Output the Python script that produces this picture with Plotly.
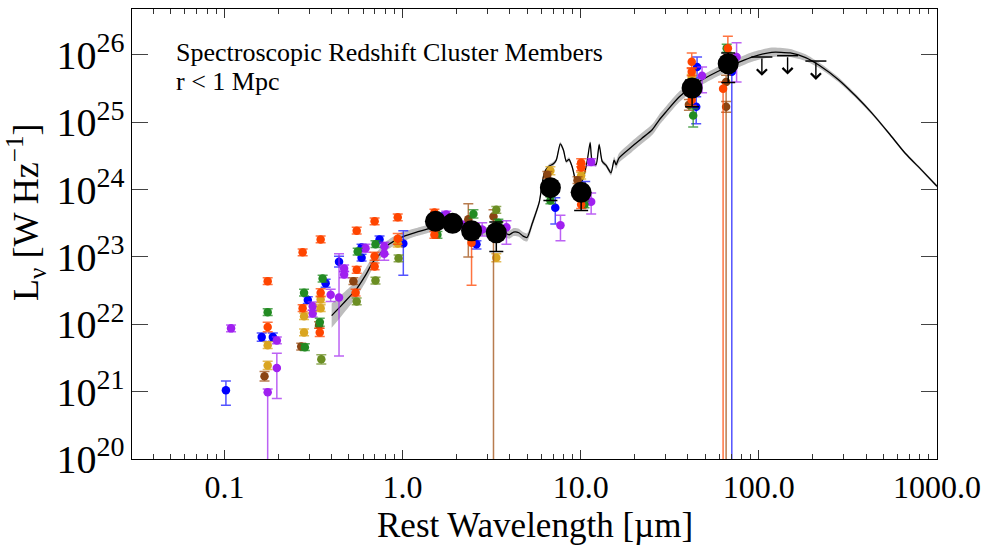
import numpy as np
import plotly.graph_objects as go

# ---------------- data (rest wavelength in micron, log10 L_nu [W/Hz]) ----------------
model_lam = [0.40, 0.45, 0.50, 0.55, 0.62, 0.68, 0.75, 0.81, 0.90, 1.0, 1.2, 1.36, 1.55, 1.76, 2.0,
             2.28, 2.55, 2.8, 3.1, 3.5, 3.75, 3.97, 4.2, 4.5, 4.75, 5.0, 5.35, 5.85, 6.25, 6.66,
             7.0, 7.3, 7.68, 8.0, 8.3, 8.6, 8.98, 9.4, 9.8, 10.4, 10.9, 11.3, 11.6, 12.2, 12.7,
             13.2, 13.9, 14.8, 15.4, 15.8, 16.4, 19.4, 22.0, 25.2, 27.5, 30.0, 35.8, 46.0, 65.0,
             77.0, 91.5, 118.0, 150.0, 183.0, 220.0, 281.0, 350.0, 430.0, 540.0, 663.0, 820.0, 1000.0]
model_logL = [22.13, 22.27, 22.40, 22.52, 22.73, 22.92, 23.05, 23.16, 23.24, 23.30, 23.37, 23.41, 23.45, 23.48, 23.47,
              23.45, 23.41, 23.38, 23.39, 23.41, 23.36, 23.33, 23.37, 23.36, 23.31, 23.29, 23.50, 23.81, 24.25, 24.35,
              24.38, 24.44, 24.68, 24.59, 24.42, 24.45, 24.33, 24.12, 24.06, 24.19, 24.44, 24.70, 24.42, 24.37, 24.67,
              24.42, 24.36, 24.25, 24.44, 24.37, 24.47, 24.64, 24.76, 24.89, 25.03, 25.15, 25.38, 25.60, 25.81,
              25.89, 25.97, 26.04, 26.03, 25.96, 25.84, 25.63, 25.39, 25.14, 24.83, 24.54, 24.29, 24.05]
model_unc = [0.18, 0.16, 0.14, 0.12, 0.10, 0.09, 0.08, 0.07, 0.07, 0.07, 0.06, 0.06, 0.06, 0.06, 0.06,
             0.06, 0.06, 0.06, 0.06, 0.06, 0.06, 0.06, 0.06, 0.06, 0.06, 0.06, 0.05, 0.04, 0.03, 0.03,
             0.03, 0.03, 0.03, 0.03, 0.03, 0.03, 0.03, 0.03, 0.03, 0.03, 0.03, 0.03, 0.03, 0.03, 0.03,
             0.03, 0.03, 0.04, 0.05, 0.06, 0.07, 0.08, 0.08, 0.08, 0.08, 0.08, 0.08, 0.07, 0.07,
             0.07, 0.07, 0.07, 0.06, 0.05, 0.04, 0.035, 0.03, 0.025, 0.02, 0.02, 0.02, 0.02]

blue_lam = [0.102, 0.162, 0.187, 0.294, 0.37, 0.44, 0.589, 0.589, 0.743, 1.01, 1.68, 2.6, 7.2, 10.6, 45.0, 44.5, 70.5]
blue_logL = [21.02, 21.81, 21.81, 22.36, 22.61, 22.93, 23.14, 22.99, 23.26, 23.20, 23.60, 23.19, 23.73, 24.00, 25.82, 25.23, 25.75]
blue_eu = [0.14, 0.06, 0.06, 0.05, 0.06, 0.08, 0.05, 0.05, 0.05, 0.19, 0.05, 0.05, 0.15, 0.12, 0.15, 0.15, 0.20]
blue_ed = [0.22, 0.06, 0.06, 0.05, 0.06, 0.08, 0.05, 0.05, 0.05, 0.47, 0.05, 0.07, 0.24, 0.22, 0.16, 0.25, 9.0]

purple_lam = [0.109, 0.197, 0.197, 0.175, 0.313, 0.313, 0.395, 0.44, 0.47, 0.47, 0.62, 0.79, 0.79, 1.76, 2.17,
              2.8, 3.83, 7.7, 11.45, 11.45, 48.0, 75.0]
purple_logL = [21.94, 21.76, 21.35, 20.99, 22.27, 22.16, 22.44, 22.40, 22.83, 22.74, 23.13, 23.16, 23.05, 23.63, 23.48,
               23.41, 23.44, 23.47, 24.41, 23.82, 25.69, 25.97]
purple_eu = [0.05, 0.05, 0.22, 0.05, 0.06, 0.05, 0.08, 0.65, 0.05, 0.05, 0.06, 0.06, 0.10, 0.05, 0.05,
             0.10, 0.10, 0.15, 0.05, 0.13, 0.13, 0.21]
purple_ed = [0.05, 0.05, 0.45, 9.0, 0.06, 0.05, 0.10, 0.87, 0.05, 0.05, 0.06, 0.12, 0.10, 0.05, 0.05,
             0.10, 0.25, 0.23, 0.05, 0.18, 0.25, 0.37]

orange_lam = [0.175, 0.175, 0.275, 0.275, 0.347, 0.347, 0.343, 0.553, 0.545, 0.553, 0.697, 0.697, 0.697,
              0.94, 0.94, 1.51, 1.51, 2.44, 10.06, 10.06, 10.06, 42.0, 42.0, 42.0, 67.0, 63.0]
orange_logL = [22.64, 21.96, 23.07, 22.24, 23.26, 22.47, 21.88, 23.39, 22.47, 22.81, 23.53, 23.01, 22.86,
               23.59, 23.27, 23.66, 23.33, 23.21, 24.40, 24.33, 23.78, 25.90, 25.75, 25.33, 26.10, 25.50]
orange_eu = [0.05, 0.07, 0.05, 0.05, 0.05, 0.06, 0.06, 0.05, 0.05, 0.05, 0.05, 0.06, 0.05,
             0.05, 0.08, 0.05, 0.05, 0.07, 0.06, 0.05, 0.06, 0.13, 0.06, 0.08, 0.18, 0.10]
orange_ed = [0.05, 0.07, 0.05, 0.05, 0.05, 0.06, 0.06, 0.05, 0.05, 0.05, 0.05, 0.06, 0.05,
             0.05, 0.08, 0.05, 0.05, 0.63, 0.06, 0.05, 0.06, 0.10, 0.06, 0.08, 0.10, 9.0]

green_lam = [0.175, 0.28, 0.283, 0.356, 0.343, 0.56, 0.705, 1.57, 2.5, 3.45, 6.76, 10.5, 42.8, 66.0]
green_logL = [22.18, 22.47, 21.66, 22.68, 22.03, 23.08, 23.19, 23.33, 23.64, 23.51, 23.84, 23.78, 25.10, 26.10]
green_eu = [0.05, 0.05, 0.05, 0.05, 0.06, 0.05, 0.05, 0.05, 0.06, 0.05, 0.05, 0.05, 0.10, 0.06]
green_ed = [0.05, 0.05, 0.05, 0.05, 0.06, 0.05, 0.05, 0.05, 0.06, 0.05, 0.05, 0.05, 0.17, 0.06]

gold_lam = [0.175, 0.175, 0.28, 0.28, 0.347, 0.347, 0.94, 3.36, 6.76, 10.06, 42.0]
gold_logL = [21.69, 21.39, 22.12, 21.88, 22.37, 22.24, 23.20, 22.99, 24.28, 24.21, 25.66]
gold_eu = [0.05, 0.06, 0.05, 0.05, 0.05, 0.05, 0.05, 0.06, 0.06, 0.05, 0.05]
gold_ed = [0.05, 0.06, 0.05, 0.05, 0.05, 0.05, 0.05, 0.06, 0.06, 0.05, 0.05]

brown_lam = [0.168, 0.27, 0.34, 0.53, 2.34, 3.24, 6.5, 9.6, 40.5, 65.5, 65.5]
brown_logL = [21.23, 21.67, 21.99, 22.64, 23.56, 23.60, 24.22, 24.14, 25.26, 25.60, 25.23]
brown_eu = [0.07, 0.05, 0.05, 0.05, 0.23, 0.10, 0.05, 0.05, 0.08, 0.10, 0.08]
brown_ed = [0.07, 0.05, 0.05, 0.05, 0.56, 9.0, 0.05, 0.05, 0.08, 9.0, 0.08]

olive_lam = [0.35, 0.553, 0.705, 0.95, 3.36]
olive_logL = [21.48, 22.34, 22.65, 22.98, 23.70]
olive_eu = [0.07, 0.05, 0.05, 0.05, 0.05]
olive_ed = [0.07, 0.05, 0.05, 0.05, 0.05]

stack_lam = [1.53, 1.91, 2.44, 3.36, 6.76, 10.06, 42.2, 67.3]
stack_logL = [23.53, 23.50, 23.39, 23.36, 24.03, 23.96, 25.51, 25.87]
stack_eu = [0.04, 0.04, 0.10, 0.16, 0.10, 0.10, 0.12, 0.16]
stack_ed = [0.04, 0.04, 0.12, 0.28, 0.19, 0.27, 0.28, 0.28]

ulim_lam = [104.0, 145.0, 209.0]
ulim_logL = [25.97, 25.99, 25.91]

x_tickvals = [0.1, 1.0, 10.0, 100.0, 1000.0]
x_ticktext = ["0.1", "1.0", "10.0", "100.0", "1000.0"]

# ---------------- figure ----------------
FONT = "Liberation Serif"
fig = go.Figure()

mlam = np.array(model_lam)
mlog = np.array(model_logL)
munc = np.array(model_unc)
fig.add_trace(go.Scatter(x=mlam, y=10 ** (mlog + munc), mode="lines",
                         line=dict(width=0, shape="spline", smoothing=0.6),
                         hoverinfo="skip", showlegend=False))
fig.add_trace(go.Scatter(x=mlam, y=10 ** (mlog - munc), mode="lines",
                         line=dict(width=0, shape="spline", smoothing=0.6),
                         fill="tonexty", fillcolor="#bdbdbd", hoverinfo="skip", showlegend=False))
fig.add_trace(go.Scatter(x=mlam, y=10 ** mlog, mode="lines",
                         line=dict(color="black", width=1.3, shape="spline", smoothing=0.6),
                         showlegend=False))


def add_points(lam, logL, eu, ed, color, ecolor, size=8.5, thick=1.5, capw=5):
    lg = np.array(logL)
    y = 10 ** lg
    up = 10 ** (lg + np.array(eu)) - y
    dn = y - 10 ** (lg - np.array(ed))
    fig.add_trace(go.Scatter(
        x=lam, y=y, mode="markers",
        marker=dict(color=color, size=size, line=dict(width=0)),
        error_y=dict(type="data", symmetric=False, array=up, arrayminus=dn,
                     color=ecolor, thickness=thick, width=capw),
        showlegend=False))


series = [
    (blue_lam, blue_logL, blue_eu, blue_ed, "#0000ff", "rgba(40,40,255,0.8)"),
    (purple_lam, purple_logL, purple_eu, purple_ed, "#a020f0", "rgba(160,32,240,0.7)"),
    (gold_lam, gold_logL, gold_eu, gold_ed, "#daa520", "rgba(218,165,32,0.75)"),
    (brown_lam, brown_logL, brown_eu, brown_ed, "#8b4513", "rgba(160,80,20,0.75)"),
    (olive_lam, olive_logL, olive_eu, olive_ed, "#6b8e23", "rgba(107,142,35,0.75)"),
    (green_lam, green_logL, green_eu, green_ed, "#228b22", "rgba(34,139,34,0.75)"),
    (orange_lam, orange_logL, orange_eu, orange_ed, "#ff4500", "rgba(255,69,0,0.75)"),
]
for s in series:
    add_points(*s)

add_points(stack_lam, stack_logL, stack_eu, stack_ed, "black", "black", size=21, thick=1.5, capw=7)

# upper limits: cap + downward arrow
fig.add_trace(go.Scatter(x=ulim_lam, y=[10 ** v for v in ulim_logL], mode="markers",
                         marker=dict(symbol="line-ew", size=15, line=dict(width=1.5, color="black")),
                         showlegend=False))
annotations = []
for lam, lv in zip(ulim_lam, ulim_logL):
    annotations.append(dict(x=np.log10(lam), y=lv - 0.28, ax=np.log10(lam), ay=lv,
                            xref="x", yref="y", axref="x", ayref="y", text="",
                            showarrow=True, arrowhead=4, arrowsize=1.4, arrowwidth=1.4,
                            arrowcolor="black", standoff=0))

annotations += [
    dict(text="Spectroscopic Redshift Cluster Members", x=(174 - 132) / 805, y=(459 - 53) / 450,
         xref="paper", yref="paper", xanchor="left", yanchor="middle", showarrow=False,
         font=dict(family=FONT, size=26, color="black")),
    dict(text="r &lt; 1 Mpc", x=(174 - 132) / 805, y=(459 - 81) / 450,
         xref="paper", yref="paper", xanchor="left", yanchor="middle", showarrow=False,
         font=dict(family=FONT, size=26, color="black")),
    dict(text="Rest Wavelength [µm]", x=0.5, y=(459 - 525) / 450,
         xref="paper", yref="paper", xanchor="center", yanchor="middle", showarrow=False,
         font=dict(family=FONT, size=35, color="black")),
    dict(text="L<sub>ν</sub> [W Hz<sup>−1</sup>]", x=(26 - 132) / 805, y=(459 - 212) / 450,
         xref="paper", yref="paper", xanchor="center", yanchor="middle", showarrow=False,
         textangle=-90, font=dict(family=FONT, size=36, color="black")),
]

minor_vals = [k * 10.0 ** n for n in range(-2, 3) for k in range(2, 10)]

fig.update_layout(
    width=990, height=548,
    margin=dict(l=132, r=53, t=9, b=89),
    paper_bgcolor="white", plot_bgcolor="white",
    font=dict(family=FONT, size=32, color="black"),
    annotations=annotations,
    showlegend=False,
)
fig.update_xaxes(type="log", range=[np.log10(0.0303), 3.0], tickmode="array",
                 tickvals=x_tickvals, ticktext=x_ticktext,
                 ticks="inside", ticklen=9, tickwidth=1, tickcolor="#333",
                 minor=dict(tickmode="array", tickvals=minor_vals, ticks="inside", ticklen=5,
                            tickwidth=1, tickcolor="#333", showgrid=False),
                 showline=True, linecolor="black", linewidth=1, mirror="ticks",
                 showgrid=False, zeroline=False,
                 tickfont=dict(family=FONT, size=32, color="black"))
fig.update_yaxes(type="log", range=[20.0, 26.683], dtick=1, exponentformat="power",
                 ticks="inside", ticklen=16, tickwidth=1, tickcolor="#444",
                 showline=True, linecolor="black", linewidth=1, mirror="ticks",
                 showgrid=False, zeroline=False,
                 tickfont=dict(family=FONT, size=32, color="black"))

fig.write_html("out.html")
